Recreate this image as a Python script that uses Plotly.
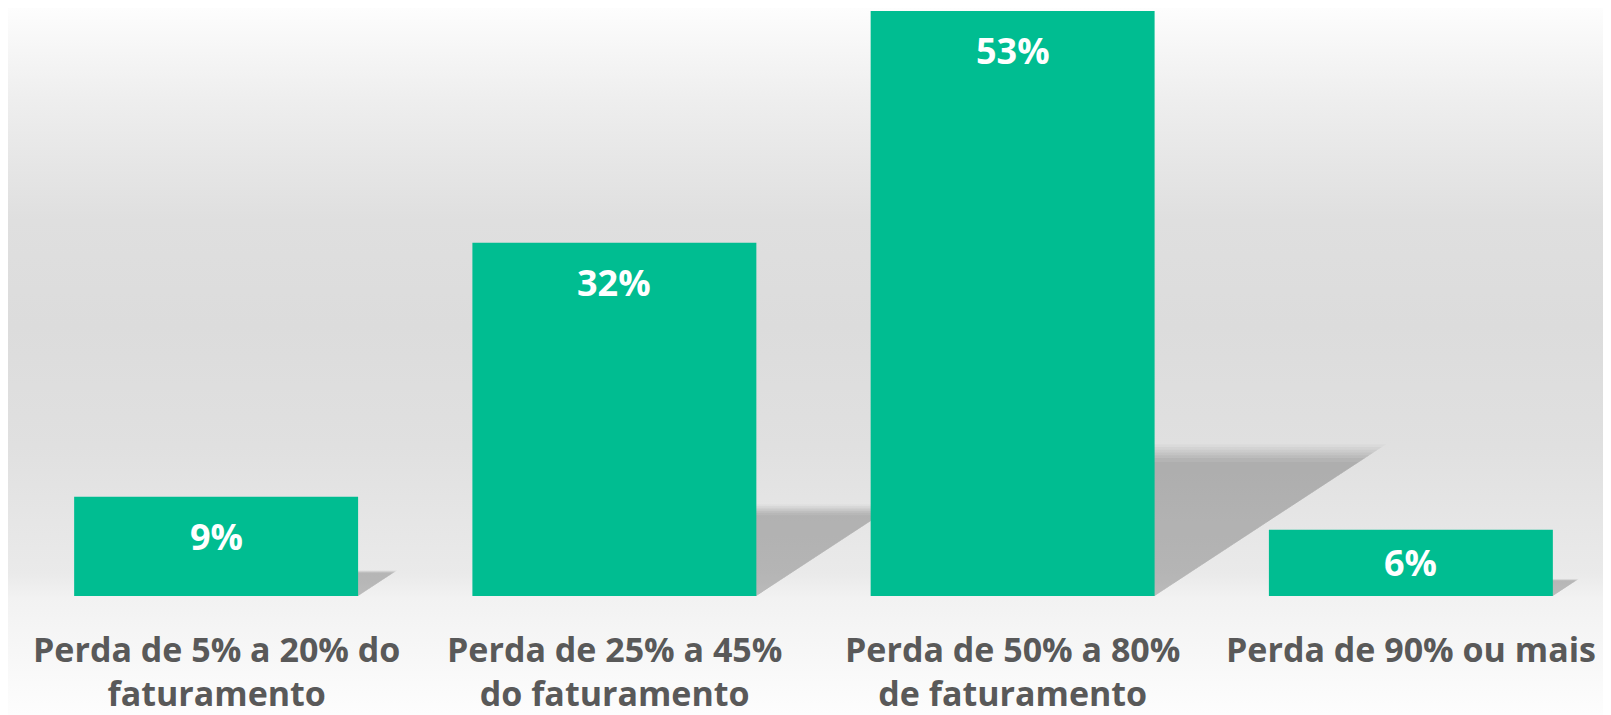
import base64
import plotly.graph_objects as go

# ---- data ----
categories = ["Perda de 5% a 20% do<br>faturamento",
              "Perda de 25% a 45%<br>do faturamento",
              "Perda de 50% a 80%<br>de faturamento",
              "Perda de 90% ou mais"]
values = [9, 32, 53, 6]
value_labels = ["9%", "32%", "53%", "6%"]

# ---- style ----
W, H = 1603, 707          # page body margin of 8px brings this to 1611x715
ML, MR, MT, MB = 9, 1, 0, 119
BAR = "#00BD91"
TXT = "#595959"
FONT = "Open Sans"
YMAX = 53.27

plot_w = W - ML - MR
plot_h = H - MT - MB
px_per_cat = plot_w / len(categories)
px_per_unit = plot_h / YMAX
BAR_W = 0.713

fig = go.Figure()
fig.add_trace(go.Bar(
    x=list(range(len(categories))), y=values,
    marker=dict(color=BAR, line=dict(width=0)),
    width=BAR_W, hoverinfo="skip", showlegend=False,
))

# background gradient (svg data uri)
stops = [(0.0, "#fdfdfd"), (0.13, "#eeeeee"), (0.30, "#dfdfdf"), (0.45, "#dcdcdc"),
         (0.62, "#e0e0e0"), (0.80, "#eaeaea"), (0.835, "#f2f2f2"), (1.0, "#fdfdfd")]
stop_xml = "".join(f'<stop offset="{o}" stop-color="{c}"/>' for o, c in stops)
svg = (f'<svg xmlns="http://www.w3.org/2000/svg" width="100" height="{H}" preserveAspectRatio="none">'
       f'<defs><linearGradient id="g" x1="0" y1="0" x2="0" y2="1">{stop_xml}</linearGradient></defs>'
       f'<rect x="0" y="0" width="100" height="{H}" fill="url(#g)"/></svg>')
uri = "data:image/svg+xml;base64," + base64.b64encode(svg.encode()).decode()
fig.add_layout_image(dict(
    source=uri, xref="paper", yref="paper",
    x=-ML / plot_w, y=1 + MT / plot_h,
    sizex=W / plot_w, sizey=H / plot_h,
    xanchor="left", yanchor="top", sizing="stretch", layer="below",
))

# perspective shadows derived from bar values (layered for a soft edge)
half = BAR_W / 2
layers = [(1.10, 0.025), (1.08, 0.03), (1.06, 0.035), (1.04, 0.04),
          (1.02, 0.04), (1.0, 0.04), (0.97, 0.03)]
for i, v in enumerate(values):
    h_px = v * px_per_unit
    dx = 0.36 * h_px / px_per_cat
    dy = 0.236 * v
    for grow, op in layers:
        ddx, ddy = dx * grow, dy * grow
        path = (f"M {i - half + 0.02},0 L {i + half},0 "
                f"L {i + half + ddx},{ddy} L {i - half + ddx},{ddy} Z")
        fig.add_shape(type="path", path=path, xref="x", yref="y",
                      fillcolor=f"rgba(0,0,0,{op})", line=dict(width=0), layer="below")

# value labels inside bars
for i, (v, t) in enumerate(zip(values, value_labels)):
    h_px = v * px_per_unit
    fig.add_annotation(x=i, y=v, xref="x", yref="y", text=f"<b>{t}</b>",
                       showarrow=False, yanchor="middle", yshift=-min(40, h_px / 2),
                       font=dict(family=FONT, size=36, color="white"))

# category labels
for i, c in enumerate(categories):
    fig.add_annotation(x=i, y=0, xref="x", yref="paper", text=f"<b>{c}</b>",
                       showarrow=False, yanchor="top", yshift=-29, borderpad=0,
                       font=dict(family=FONT, size=34, color=TXT))

fig.update_layout(
    width=W, height=H,
    margin=dict(l=ML, r=MR, t=MT, b=MB, pad=0),
    paper_bgcolor="white", plot_bgcolor="rgba(0,0,0,0)",
    xaxis=dict(range=[-0.5, len(categories) - 0.5], showticklabels=False, showgrid=False,
               zeroline=False, showline=False, ticks=""),
    yaxis=dict(range=[0, YMAX], showticklabels=False, showgrid=False, zeroline=False,
               showline=False, ticks=""),
    font=dict(family=FONT),
)

fig.write_html("out.html")
